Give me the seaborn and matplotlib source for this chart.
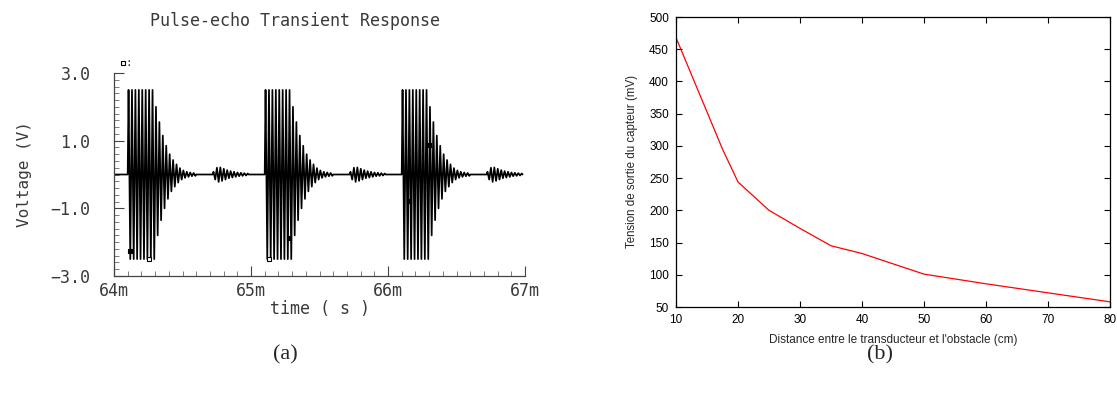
import numpy as np
import pandas as pd
import matplotlib
matplotlib.use("Agg")
import matplotlib.pyplot as plt
import seaborn as sns
from matplotlib.ticker import MultipleLocator

sns.set_style("ticks")
plt.rcParams['font.family'] = ['DejaVu Sans']

# --- (a) reponse impulsion-echo ---
burst_start_ms = [64.10, 65.10, 66.10]
half_period_ms = 0.0125          # 40 kHz
echo_delay_ms = 0.62
# amplitudes crete par demi-periode (V), signe alterne
drive_peaks = [2.5, 2.5, 2.5, 2.5, 2.5, 2.5, 2.5, 2.5,
               2.5, 2.5, 2.5, 2.5, 2.5, 2.5, 2.5, 2.5]
ring_peaks = [2.0, 1.8, 1.55, 1.35, 1.15, 1.0, 0.85, 0.72, 0.6, 0.5, 0.43, 0.36,
              0.3, 0.24, 0.19, 0.15, 0.12, 0.1, 0.08, 0.07, 0.06, 0.05, 0.045, 0.04]
echo_peaks = [0.08, 0.15, 0.2, 0.22, 0.21, 0.19, 0.17, 0.15, 0.13, 0.11, 0.1,
              0.09, 0.08, 0.07, 0.06, 0.05, 0.05, 0.04, 0.04, 0.03, 0.03]
marker_t = [64.117, 64.255, 65.13, 65.277, 66.155, 66.30]
marker_v = [-2.27, -2.5, -2.5, -1.87, -0.79, 0.87]
marker_open = [False, True, True, False, False, False]

# --- (b) tension de sortie vs distance ---
dist_cm = [10, 17.5, 20, 25, 30, 35, 40, 50, 60, 70, 80]
tension_mv = [468, 295, 244, 200, 172, 145, 133, 101, 86, 72, 58]

# construction de la trace : excitation puis oscillations amorties
t_list, v_list = [64.0], [0.0]
for t0 in burst_start_ms:
    t_list.append(t0)
    v_list.append(0.0)
    main = drive_peaks + ring_peaks
    for k, a in enumerate(main):
        t_list.append(t0 + (k + 0.5) * half_period_ms)
        v_list.append(a if k % 2 == 0 else -a)
    t_list.append(t0 + len(main) * half_period_ms)
    v_list.append(0.0)
    te = t0 + echo_delay_ms
    t_list.append(te)
    v_list.append(0.0)
    for k, a in enumerate(echo_peaks):
        t_list.append(te + (k + 0.5) * half_period_ms)
        v_list.append(a if k % 2 == 0 else -a)
    t_list.append(te + len(echo_peaks) * half_period_ms)
    v_list.append(0.0)
df_a = pd.DataFrame({'t': t_list, 'v': v_list})
df_b = pd.DataFrame({'d': dist_cm, 'u': tension_mv})

fig = plt.figure(figsize=(11.17, 3.97), dpi=100)
ax1 = fig.add_axes([114 / 1117, 1 - 276 / 397, 411 / 1117, 203 / 397])
ax2 = fig.add_axes([676 / 1117, 1 - 307 / 397, 434 / 1117, 290 / 397])

# --- panneau (a) ---
grey = '#3a3a3a'
mono = 'DejaVu Sans Mono'
sns.lineplot(data=df_a, x='t', y='v', ax=ax1, color='black', lw=1.25,
             sort=False, estimator=None)
for t, v, op in zip(marker_t, marker_v, marker_open):
    ax1.plot(t, v, 's', ms=3, mec='black', mew=0.8,
             mfc='white' if op else 'black')
ax1.plot(64.066, 3.3, 's', ms=3, mec='black', mfc='white', mew=0.8, clip_on=False)
ax1.text(64.085, 3.3, ':', fontsize=8, va='center', color=grey, family=mono)

ax1.set_xlim(64, 67)
ax1.set_ylim(-3, 3)
ax1.set_xticks([64, 65, 66, 67])
ax1.set_xticklabels(['64m', '65m', '66m', '67m'], family=mono)
ax1.set_yticks([-3, -1, 1, 3])
ax1.set_yticklabels(['\u22123.0', '\u22121.0', '1.0', '3.0'], family=mono)
ax1.xaxis.set_minor_locator(MultipleLocator(0.1))
ax1.yaxis.set_minor_locator(MultipleLocator(0.2))
ax1.tick_params(which='major', direction='in', length=7, width=0.8,
                colors='#444444', labelcolor=grey, labelsize=12, pad=4)
ax1.tick_params(which='minor', direction='in', length=3.5, width=0.6,
                colors='#666666')
ax1.tick_params(axis='y', which='major', pad=17)
sns.despine(ax=ax1)
for s in ['left', 'bottom']:
    ax1.spines[s].set_color('#444444')
    ax1.spines[s].set_linewidth(0.9)
ax1.set_xlabel('time ( s )', fontsize=12, color=grey, family=mono, labelpad=0)
ax1.set_ylabel('Voltage (V)', fontsize=11.5, color=grey, family=mono, labelpad=13)
fig.text(295 / 1117, 1 - 21 / 397, 'Pulse-echo Transient Response',
         ha='center', va='center', fontsize=12, color=grey, family=mono)

# --- panneau (b) ---
sns.lineplot(data=df_b, x='d', y='u', ax=ax2, color='red', lw=0.9)
ax2.set_xlim(10, 80)
ax2.set_ylim(50, 500)
ax2.xaxis.set_major_locator(MultipleLocator(10))
ax2.yaxis.set_major_locator(MultipleLocator(50))
ax2.tick_params(direction='in', length=4, width=0.8, top=True, right=True,
                labelsize=8.5, colors='black', pad=5)
for lab in ax2.get_xticklabels() + ax2.get_yticklabels():
    lab.set_fontfamily('Liberation Sans')
for s in ax2.spines.values():
    s.set_color('black')
    s.set_linewidth(0.9)
ax2.set_xlabel("Distance entre le transducteur et l'obstacle (cm)",
               fontsize=8.5, family='Liberation Sans', labelpad=6)
ax2.set_ylabel('Tension de sortie du capteur (mV)',
               fontsize=8.3, family='Liberation Sans', labelpad=8)

fig.text(285 / 1117, 1 - 355 / 397, '(a)', ha='center', va='center',
         fontsize=16, family='Liberation Serif')
fig.text(880 / 1117, 1 - 355 / 397, '(b)', ha='center', va='center',
         fontsize=16, family='Liberation Serif')

fig.savefig('out.png', dpi=100)
